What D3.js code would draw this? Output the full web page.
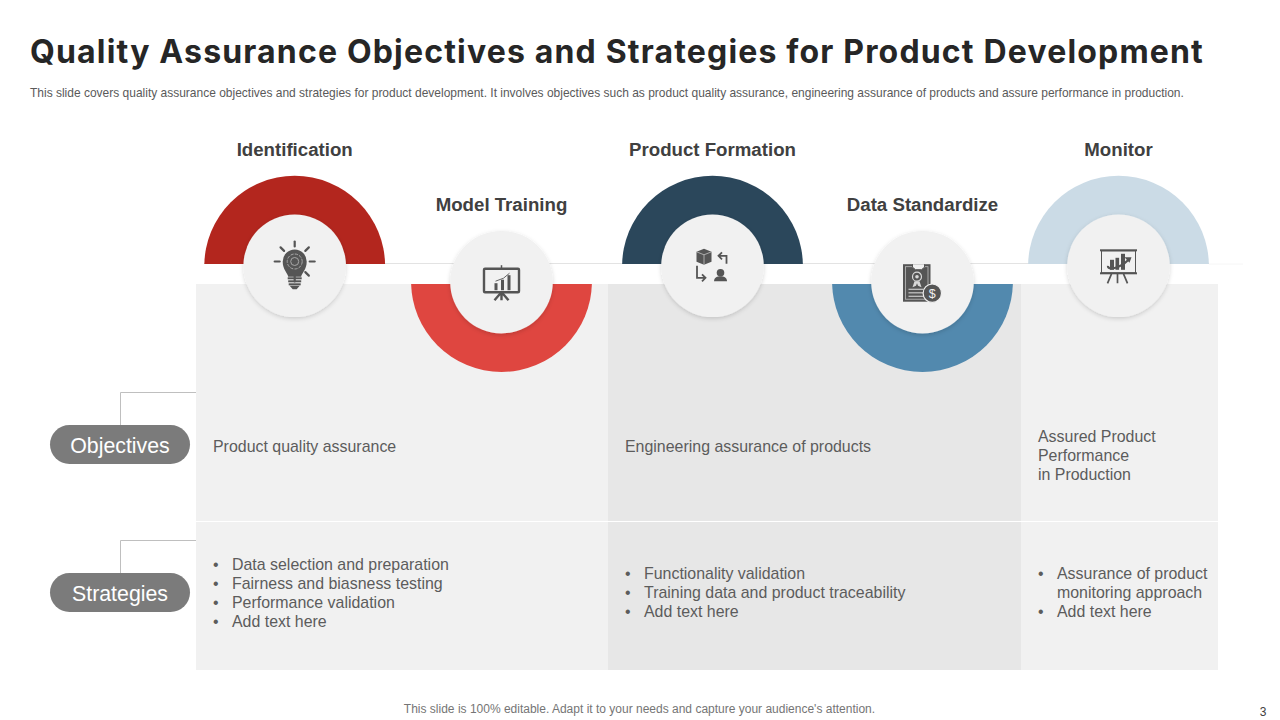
<!DOCTYPE html>
<html>
<head>
<meta charset="utf-8">
<script src="https://cdn.jsdelivr.net/npm/d3@7"></script>
<style>
  html, body { margin: 0; padding: 0; background: #fff; }
  svg { display: block; }
  text { font-family: "Liberation Sans", Arial, sans-serif; }
</style>
</head>
<body>
<svg id="chart" width="1280" height="720"></svg>
<script>
var stageNames = ['Identification', 'Model Training', 'Product Formation', 'Data Standardize', 'Monitor'];
var stageColors = ['#b3261e', '#df4640', '#2b475b', '#5289ae', '#cbdbe6'];
var stageDirections = ['up', 'down', 'up', 'down', 'up'];
var stageIcons = ['bulb', 'board', 'exchange', 'certificate', 'growth'];

var columnFills = ['#f1f1f1', '#e7e7e7', '#f1f1f1'];
var rowNames = ['Objectives', 'Strategies'];
var objectiveLines = [
  ['Product quality assurance'],
  ['Engineering assurance of products'],
  ['Assured Product', 'Performance', 'in Production']
];
var strategyLines = [
  [['Data selection and preparation'], ['Fairness and biasness testing'], ['Performance validation'], ['Add text here']],
  [['Functionality validation'], ['Training data and product traceability'], ['Add text here']],
  [['Assurance of product', 'monitoring approach'], ['Add text here']]
];

var titleText = 'Quality Assurance Objectives and Strategies for Product Development';
var subtitleText = 'This slide covers quality assurance objectives and strategies for product development. It involves objectives such as product quality assurance, engineering assurance of products and assure performance in production.';
var footerText = "This slide is 100% editable. Adapt it to your needs and capture your audience's attention.";
var pageNumber = '3';

var svg = d3.select('#chart');
var textColor = '#5c5c5c';
var iconColor = '#555555';
var bodySize = 15.93;

var defs = svg.append('defs');
var shadow = defs.append('filter').attr('id', 'soft')
  .attr('x', '-20%').attr('y', '-20%').attr('width', '140%').attr('height', '140%');
shadow.append('feDropShadow')
  .attr('dx', 0).attr('dy', 1.5).attr('stdDeviation', 2)
  .attr('flood-color', '#000').attr('flood-opacity', 0.16);

// header
var title = svg.append('text').attr('x', 30).attr('y', 62.5)
  .attr('font-size', 32).attr('font-weight', 700).attr('fill', '#262626')
  .style('font-family', 'Inter')
  .text(titleText);
// stretch the title to the width it has on the slide
title.style('letter-spacing', (1174 - title.node().getComputedTextLength()) / titleText.length + 'px');

svg.append('text').attr('x', 30).attr('y', 97)
  .attr('font-size', 11.99).attr('fill', '#5a5a5a')
  .text(subtitleText);

// columns
var xEdge = d3.scaleLinear().domain([0, 1, 2, 3]).range([196, 608, 1021, 1218]);
var yEdge = d3.scaleLinear().domain([0, 1, 2]).range([284, 521, 670]);

rowNames.forEach(function(row, r) {
  svg.selectAll('.cell-' + r)
    .data(columnFills)
    .enter().append('rect')
    .attr('class', 'cell-' + r)
    .attr('x', function(d, i) { return xEdge(i); })
    .attr('y', yEdge(r) + (r ? 1 : 0))
    .attr('width', function(d, i) { return xEdge(i + 1) - xEdge(i); })
    .attr('height', yEdge(r + 1) - yEdge(r) - (r ? 1 : 0))
    .attr('fill', function(d) { return d; });
});

// connector line behind the arcs
svg.append('line')
  .attr('x1', 204).attr('x2', 1209).attr('y1', 263.5).attr('y2', 263.5)
  .attr('stroke', '#e3e3e3').attr('stroke-width', 1);
svg.append('line')
  .attr('x1', 1209).attr('x2', 1243).attr('y1', 264).attr('y2', 264)
  .attr('stroke', '#f6f6f6').attr('stroke-width', 1);

// stages
var stageX = d3.scaleOrdinal().domain(stageNames).range([294.7, 501.5, 712.5, 922.5, 1118.5]);
var outerRadius = 90.4;
var innerRadius = 51.3;
var arcPath = d3.arc().innerRadius(0).outerRadius(outerRadius);

defs.append('clipPath').attr('id', 'clip-up').append('rect')
  .attr('x', 0).attr('y', 0).attr('width', 1280).attr('height', 264);
defs.append('clipPath').attr('id', 'clip-down').append('rect')
  .attr('x', 0).attr('y', 284).attr('width', 1280).attr('height', 436);

var stages = stageNames.map(function(name, i) {
  return { name: name, color: stageColors[i], dir: stageDirections[i], icon: stageIcons[i] };
});

function centerY(d) { return d.dir === 'up' ? 265.8 : 282.2; }
function arcY(d) { return d.dir === 'up' ? 266.2 : 281.6; }

svg.selectAll('.arc')
  .data(stages)
  .enter().append('g')
  .attr('class', 'arc')
  .attr('clip-path', function(d) { return 'url(#clip-' + d.dir + ')'; })
  .append('path')
  .attr('transform', function(d) { return 'translate(' + stageX(d.name) + ',' + arcY(d) + ')'; })
  .attr('d', function() { return arcPath({ startAngle: 0, endAngle: Math.PI * 2 }); })
  .attr('fill', function(d) { return d.color; });

svg.selectAll('.disc')
  .data(stages)
  .enter().append('circle')
  .attr('class', 'disc')
  .attr('cx', function(d) { return stageX(d.name); })
  .attr('cy', centerY)
  .attr('r', innerRadius)
  .attr('fill', '#f1f1f1')
  .attr('filter', 'url(#soft)');

svg.selectAll('.stage-label')
  .data(stages)
  .enter().append('text')
  .attr('class', 'stage-label')
  .attr('x', function(d) { return stageX(d.name); })
  .attr('y', function(d) { return d.dir === 'up' ? 155.5 : 210.5; })
  .attr('text-anchor', 'middle')
  .attr('font-size', 18.67).attr('font-weight', 700).attr('fill', '#404040')
  .text(function(d) { return d.name; });

// icons, drawn around the middle of each disc
var iconDrawers = {
  bulb: function(g) {
    d3.range(7).forEach(function(i) {
      var a = (-180 + i * 45) * Math.PI / 180;
      g.append('line')
        .attr('x1', Math.cos(a) * 15).attr('y1', -4.3 + Math.sin(a) * 15)
        .attr('x2', Math.cos(a) * 20).attr('y2', -4.3 + Math.sin(a) * 20)
        .attr('stroke', iconColor).attr('stroke-width', 2.2).attr('stroke-linecap', 'round');
    });
    g.append('path')
      .attr('d', 'M-6.5,11 C-7,7 -12,4 -12,-4.3 A12,12 0 1 1 12,-4.3 C12,4 7,7 6.5,11 Z')
      .attr('fill', iconColor);
    g.append('circle').attr('cx', 0).attr('cy', -4.3).attr('r', 7.5)
      .attr('fill', 'none').attr('stroke', '#a8a8a8').attr('stroke-width', 1).attr('stroke-dasharray', '3.2 1.2');
    g.append('circle').attr('cx', 0).attr('cy', -4.3).attr('r', 4)
      .attr('fill', 'none').attr('stroke', '#a8a8a8').attr('stroke-width', 1);
    [12.5, 15.5, 18.5].forEach(function(y, i) {
      g.append('rect').attr('x', -7 + i * 0.5).attr('y', y - 1).attr('width', 14 - i).attr('height', 2)
        .attr('fill', iconColor);
    });
    g.append('path').attr('d', 'M-5,20 L5,20 L2,23.5 L-2,23.5 Z').attr('fill', iconColor);
  },
  board: function(g) {
    g.append('rect').attr('x', -17.5).attr('y', -13.5).attr('width', 35).attr('height', 23.5)
      .attr('rx', 1).attr('fill', 'none').attr('stroke', iconColor).attr('stroke-width', 2.4);
    g.append('line').attr('x1', 0).attr('x2', 0).attr('y1', -17).attr('y2', -14)
      .attr('stroke', iconColor).attr('stroke-width', 1.5);
    [[-5.5, 7], [1, 10.5], [7.5, 15]].forEach(function(b) {
      g.append('rect').attr('x', b[0] - 1.5).attr('y', 8 - b[1]).attr('width', 3).attr('height', b[1])
        .attr('fill', iconColor);
    });
    g.append('path').attr('d', 'M-6,-1 L2,-4 L8,-9').attr('fill', 'none').attr('stroke', iconColor).attr('stroke-width', 0.9);
    g.append('path').attr('d', 'M0,10 L0,18 M-1,11 L-7,18 M1,11 L7,18')
      .attr('stroke', iconColor).attr('stroke-width', 2.4).attr('fill', 'none');
  },
  exchange: function(g) {
    g.append('path').attr('d', 'M-16,-14 L-8.5,-17 L-1,-14 L-1,-4 L-8.5,-1 L-16,-4 Z').attr('fill', iconColor);
    g.append('path').attr('d', 'M-16,-14 L-8.5,-11 L-1,-14 M-8.5,-11 L-8.5,-1')
      .attr('fill', 'none').attr('stroke', '#d0d0d0').attr('stroke-width', 0.7);
    g.append('path').attr('d', 'M14,-2 L14,-10 L6,-10 M9.5,-13.5 L6,-10 L9.5,-6.5')
      .attr('fill', 'none').attr('stroke', iconColor).attr('stroke-width', 1.8);
    g.append('path').attr('d', 'M-15.5,0 L-15.5,12 L-7,12 M-10.5,8.5 L-7,12 L-10.5,15.5')
      .attr('fill', 'none').attr('stroke', iconColor).attr('stroke-width', 1.8);
    g.append('circle').attr('cx', 8).attr('cy', 7).attr('r', 3.8).attr('fill', iconColor);
    g.append('path').attr('d', 'M1.5,15.5 C1.5,11.5 5,10.5 8,10.5 C11,10.5 14.5,11.5 14.5,15.5 Z').attr('fill', iconColor);
  },
  certificate: function(g) {
    g.append('rect').attr('x', -19.5).attr('y', -18).attr('width', 27.5).attr('height', 37.5).attr('fill', iconColor);
    g.append('rect').attr('x', -17).attr('y', -15.5).attr('width', 22.5).attr('height', 32.5)
      .attr('fill', 'none').attr('stroke', '#bdbdbd').attr('stroke-width', 0.8);
    g.append('path').attr('d', 'M-10,-18 L-10,-15 L-7,-12.5 L-1,-12.5 L2,-15 L2,-18').attr('fill', '#f1f1f1').attr('stroke', iconColor);
    g.append('circle').attr('cx', -5.5).attr('cy', -5.5).attr('r', 4.5).attr('fill', 'none').attr('stroke', '#d8d8d8').attr('stroke-width', 1.2);
    g.append('circle').attr('cx', -5.5).attr('cy', -5.5).attr('r', 1.8).attr('fill', '#d8d8d8');
    g.append('path').attr('d', 'M-8,-1 L-10,5 L-6.5,3.5 L-5.5,1 L-4.5,3.5 L-1,5 L-3,-1').attr('fill', '#d8d8d8');
    [6.5, 10, 13.5].forEach(function(y) {
      g.append('rect').attr('x', -14).attr('y', y).attr('width', 15).attr('height', 1.2).attr('fill', '#c8c8c8');
    });
    g.append('circle').attr('cx', 9.8).attr('cy', 11).attr('r', 9.2)
      .attr('fill', iconColor).attr('stroke', '#f1f1f1').attr('stroke-width', 1.2);
    g.append('text').attr('x', 9.8).attr('y', 15.5).attr('text-anchor', 'middle')
      .attr('font-size', 12.5).attr('fill', '#f1f1f1').text('$');
  },
  growth: function(g) {
    g.append('rect').attr('x', -18.5).attr('y', -16.5).attr('width', 37).attr('height', 2).attr('fill', iconColor);
    g.append('rect').attr('x', -18.5).attr('y', 6.5).attr('width', 37).attr('height', 2).attr('fill', iconColor);
    g.append('rect').attr('x', -17).attr('y', -15).attr('width', 34).attr('height', 22)
      .attr('fill', 'none').attr('stroke', iconColor).attr('stroke-width', 1);
    [[-8.5, 10, 4], [-3, 12, 3.6], [2.5, 16, 4]].forEach(function(b) {
      g.append('rect').attr('x', b[0]).attr('y', 4 - b[1]).attr('width', b[2]).attr('height', b[1]).attr('fill', iconColor);
    });
    g.append('path').attr('d', 'M-10.5,0 C-11,5 1,3 10,-6').attr('fill', 'none').attr('stroke', iconColor).attr('stroke-width', 2.2);
    g.append('path').attr('d', 'M13,-8.5 L6,-8.5 L11,-3 Z').attr('fill', iconColor);
    g.append('path').attr('d', 'M-1,8 L-1,17.5 M-7,8 L-11,17.5 M5,8 L9,17.5').attr('stroke', iconColor).attr('stroke-width', 1.7);
  }
};

svg.selectAll('.icon')
  .data(stages)
  .enter().append('g')
  .attr('class', 'icon')
  .attr('transform', function(d) { return 'translate(' + stageX(d.name) + ',' + centerY(d) + ')'; })
  .each(function(d) { iconDrawers[d.icon](d3.select(this)); });

// row labels and connectors
var pillY = d3.scaleOrdinal().domain(rowNames).range([444.5, 592.5]);

svg.selectAll('.connector')
  .data(rowNames)
  .enter().append('path')
  .attr('class', 'connector')
  .attr('d', function(d) {
    var y = pillY(d);
    return 'M120.5,' + (y - 19) + 'V' + (y - 52) + 'H196';
  })
  .attr('fill', 'none').attr('stroke', '#bfbfbf').attr('stroke-width', 1);

svg.selectAll('.pill')
  .data(rowNames)
  .enter().append('rect')
  .attr('class', 'pill')
  .attr('x', 50).attr('width', 140).attr('height', 39).attr('rx', 19.5)
  .attr('y', function(d) { return pillY(d) - 19.5; })
  .attr('fill', '#7b7b7b');

svg.selectAll('.pill-label')
  .data(rowNames)
  .enter().append('text')
  .attr('class', 'pill-label')
  .attr('x', 120).attr('y', function(d) { return pillY(d) + 8; })
  .attr('text-anchor', 'middle').attr('font-size', 21.33).attr('fill', '#fff')
  .text(function(d) { return d; });

// cell text
var lineHeight = 19;

objectiveLines.forEach(function(lines, c) {
  var top = lines.length > 1 ? 442 : 452;
  lines.forEach(function(line, i) {
    svg.append('text')
      .attr('x', xEdge(c) + 17).attr('y', top + i * lineHeight)
      .attr('font-size', bodySize).attr('fill', textColor).text(line);
  });
});

strategyLines.forEach(function(items, c) {
  var count = d3.sum(items, function(it) { return it.length; });
  var y = 598 - (count - 1) * lineHeight / 2;
  items.forEach(function(item) {
    svg.append('text')
      .attr('x', xEdge(c) + 17).attr('y', y)
      .attr('font-size', bodySize).attr('fill', textColor).text('•');
    item.forEach(function(line) {
      svg.append('text')
        .attr('x', xEdge(c) + 36).attr('y', y)
        .attr('font-size', bodySize).attr('fill', textColor).text(line);
      y += lineHeight;
    });
  });
});

// footer
svg.append('text').attr('x', 639.5).attr('y', 713)
  .attr('text-anchor', 'middle').attr('font-size', 12).attr('fill', '#757575')
  .text(footerText);
svg.append('text').attr('x', 1263).attr('y', 716)
  .attr('text-anchor', 'middle').attr('font-size', 12).attr('fill', '#404040')
  .text(pageNumber);
</script>
</body>
</html>
